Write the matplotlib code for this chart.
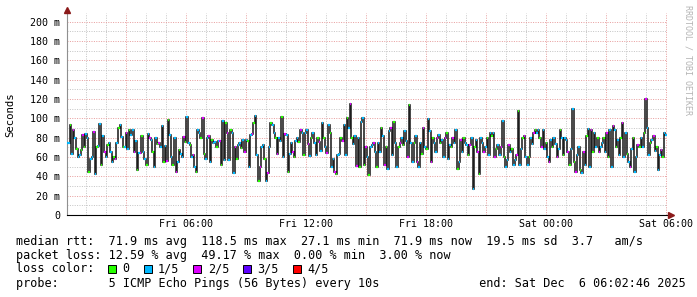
"""
Smokeping style latency graph: median rtt as a step line, coloured by packet loss.
"""

import numpy as np
import matplotlib
matplotlib.use("Agg")
import matplotlib.pyplot as plt
from matplotlib.patches import Rectangle

# median rtt in ms, one value per consolidated step
rtt_ms = [
    75, 75, 93, 63, 88, 80, 68, 60, 62, 67,
    83, 70, 84, 80, 45, 58, 60, 86, 42, 70,
    71, 94, 52, 82, 65, 60, 72, 74, 65, 55,
    60, 58, 75, 90, 93, 81, 70, 70, 85, 68,
    88, 83, 88, 65, 77, 47, 64, 64, 82, 65,
    58, 52, 84, 80, 78, 65, 50, 80, 73, 75,
    70, 92, 55, 71, 56, 98, 83, 60, 52, 80,
    45, 55, 67, 63, 60, 81, 76, 101, 75, 72,
    60, 62, 50, 45, 88, 85, 80, 100, 63, 58,
    80, 82, 55, 78, 74, 76, 70, 77, 77, 52,
    97, 57, 95, 85, 57, 88, 85, 43, 70, 58,
    72, 75, 69, 78, 65, 78, 77, 50, 83, 84,
    95, 102, 62, 35, 50, 70, 72, 58, 35, 43,
    70, 95, 93, 85, 80, 63, 80, 77, 101, 60,
    84, 83, 45, 63, 74, 65, 60, 77, 80, 76,
    88, 85, 62, 85, 88, 73, 61, 80, 85, 75,
    62, 80, 76, 66, 95, 80, 70, 64, 93, 85,
    50, 58, 45, 42, 62, 63, 80, 77, 93, 62,
    100, 90, 115, 80, 73,
    82, 51, 80, 50, 96, 100, 52, 70,
    60, 41, 70, 72, 75, 65, 50, 75,
    65, 90, 82, 52, 70, 48, 87, 90,
    62, 96, 75, 50, 70, 75, 80, 72,
    87, 77, 60, 114, 75, 55, 75, 82,
    55, 50, 75, 63, 90, 70, 68, 99,
    87, 55, 80, 75, 65, 80, 83, 75,
    78, 60, 80, 85, 58, 72, 70, 80,
    75, 88, 48, 55, 78, 65, 80, 75,
    72, 62, 72, 80, 27, 70, 78, 65,
    42, 80, 75, 65, 70, 80, 62, 85,
    82, 85, 60, 68, 72, 62, 70, 97,
    60, 50, 57, 72, 65, 68, 52, 57,
    62, 108, 52, 68, 80, 82, 60, 52,
    60, 80, 73, 85, 88, 85, 88, 80,
    70, 88, 68, 75, 60, 55, 78, 70,
    80, 73, 60, 68, 88, 80, 62, 80,
    78, 65, 52, 68, 110, 55, 45, 62,
    70, 47, 43, 65, 52, 82, 89, 50,
    88, 65, 85, 70, 80, 65, 70, 75,
    80, 65, 85, 60, 88, 50, 92, 88,
    70, 78, 62, 80, 95, 60, 85, 63,
    55, 50, 68, 80, 45, 60, 72, 70,
    80, 70, 85, 120, 90, 62, 75, 78,
    82, 66, 70, 47, 62, 67, 60, 85,
    83,
]

# lost pings out of 5 for each step
loss_fifths = (
    "1101210110201101121011012101110210110121"
    "0112101201101210110211012011012101120110"
    "1210110201121011012011021011201101210112"
    "0110211012101102110121011201102101121011"
    "1021101210112011021101201121011021011210"
    "1101201121011021011201101211021011201121"
    "0112011021101210110211012011210110120112"
    "1011210112011021101120110211012101121010"
    "1120110211012101120110211012011210110211"
    "0121011201102110121011201101211021101120"
    "1101211021011201121011021101120110211012"
)

loss_colors = ["#26ff00", "#00b8ff", "#dd00ff", "#5e00ff", "#ff0000"]
loss_labels = ["0", "1/5", "2/5", "3/5", "4/5"]

y_ticks = [0, 20, 40, 60, 80, 100, 120, 140, 160, 180, 200]
y_tick_labels = ["0", "20 m", "40 m", "60 m", "80 m", "100 m",
                 "120 m", "140 m", "160 m", "180 m", "200 m"]
x_ticks = [6, 12, 18, 24, 30]  # hours since Fri 00:00
x_tick_labels = ["Fri 06:00", "Fri 12:00", "Fri 18:00", "Sat 00:00", "Sat 06:00"]

start_h = 2 / 60 + 46 / 3600   # Fri 00:02:46
span_h = 30.0

legend_rows = [
    "median rtt:  71.9 ms avg  118.5 ms max  27.1 ms min  71.9 ms now  19.5 ms sd  3.7   am/s",
    "packet loss: 12.59 % avg  49.17 % max  0.00 % min  3.00 % now",
    "loss color:",
    "probe:       5 ICMP Echo Pings (56 Bytes) every 10s              end: Sat Dec  6 06:02:46 2025",
]

W, H = 697, 297
MONO = "DejaVu Sans Mono"

fig = plt.figure(figsize=(W / 100, H / 100), dpi=100)
ax = fig.add_axes([66.7 / W, 82 / H, 600.3 / W, 202 / H])
ax.set_xlim(start_h, start_h + span_h)
ax.set_ylim(0, 209)

# grid: minor every hour / 10 ms, major every 3 hours / 20 ms
dots = dict(lw=0.72, linestyle=(0, (1, 1.4)), zorder=1)
for h in np.arange(1, 31):
    col = "#e8a0a0" if h % 3 == 0 else "#c6c6c6"
    ax.axvline(h, color=col, **dots)
for v in np.arange(10, 210, 10):
    col = "#e8a0a0" if v % 20 == 0 else "#c6c6c6"
    ax.axhline(v, color=col, **dots)

# median line
n = len(rtt_ms)
edges = np.linspace(start_h, start_h + span_h, n + 1)
ax.stairs(rtt_ms, edges, baseline=None, color="#1e1e1e", lw=1.15, zorder=3)
cols = [loss_colors[int(d)] for d in loss_fifths[:n]]
ax.hlines(rtt_ms, edges[:-1], edges[1:], colors=cols, lw=1.6, zorder=4)

# axes
for s in ["top", "right"]:
    ax.spines[s].set_visible(False)
ax.spines["left"].set_color("#909090")
ax.spines["left"].set_linewidth(0.8)
ax.spines["bottom"].set_color("#000000")
ax.spines["bottom"].set_linewidth(0.8)
ax.plot([0], [1.015], marker="^", color="#8b1a1a", ms=4, transform=ax.transAxes,
        clip_on=False, zorder=6)
ax.plot([1.006], [0], marker=">", color="#8b1a1a", ms=4, transform=ax.transAxes,
        clip_on=False, zorder=6)

ax.set_yticks(y_ticks, y_tick_labels)
ax.set_xticks(x_ticks, x_tick_labels)
ax.tick_params(length=0, labelsize=7.2, colors="#000000")
ax.tick_params(axis="y", pad=4.8)
ax.tick_params(axis="x", pad=3.2)
for lab in ax.get_xticklabels() + ax.get_yticklabels():
    lab.set_family(MONO)

fig.text(10.7 / W, 1 - 114.5 / H, "Seconds", rotation=90, ha="center", va="center",
         family=MONO, fontsize=7.7)
fig.text(687.7 / W, 1 - 5 / H, "RRDTOOL / TOBI OETIKER", rotation=270, ha="center",
         va="top", family=MONO, fontsize=6, color="#b4b4b4")

# legend block
cw = 7.1
row_y = [241, 255, 269, 283]
for txt, y in zip(legend_rows, row_y):
    fig.text(16 / W, 1 - y / H, txt, ha="left", va="center", family=MONO, fontsize=8.5)

box_cols = [13, 18, 25, 32, 39]
for col, c, lab in zip(box_cols, loss_colors, loss_labels):
    x0 = 16 + col * cw
    fig.patches.append(Rectangle((x0 / W, 1 - (row_y[2] + 4) / H), 8 / W, 8 / H,
                                 facecolor=c, edgecolor="#000000", lw=0.7,
                                 transform=fig.transFigure, figure=fig))
    fig.text((16 + (col + 2) * cw) / W, 1 - row_y[2] / H, lab, ha="left", va="center",
             family=MONO, fontsize=8.5)

fig.savefig("out.png", dpi=100)
